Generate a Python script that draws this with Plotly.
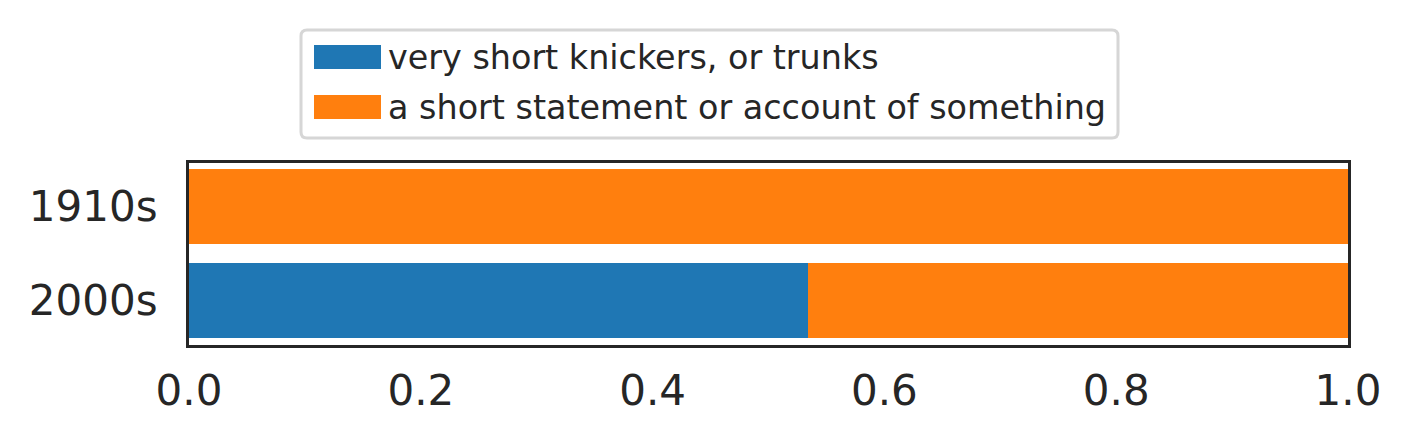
import plotly.graph_objects as go

# data
decades = ["1910s", "2000s"]
sense_names = ["very short knickers, or trunks", "a short statement or account of something"]
knickers_share = [0.0, 0.534]
statement_share = [1.0, 0.466]
sense_colors = ["#1f77b4", "#ff7f0e"]
x_ticks = [0.0, 0.2, 0.4, 0.6, 0.8, 1.0]

# page body has an 8px margin, so the figure is shrunk by that much
OFF = 8
W, H = 1412 - OFF, 447 - OFF
L, R, T, B = 189 - OFF, 1348 - OFF, 163 - OFF, 345 - OFF
TXT = "#262626"
FONT = "DejaVu Sans"


def px(x):
    return (x - OFF - L) / (R - L)


def py(y):
    return (B - (y - OFF)) / (B - T)


fig = go.Figure()
for name, vals, col in zip(sense_names, [knickers_share, statement_share], sense_colors):
    fig.add_trace(go.Bar(
        y=decades, x=vals, name=name, orientation="h",
        marker=dict(color=col, line=dict(width=0)),
        width=0.8, showlegend=False,
    ))

# legend drawn by hand so the swatches are wide rectangles like the original
shapes = []
x0, x1, y0, y1, r = 301, 1118, 30, 138, 6
path = (f"M{px(x0 + r)},{py(y0)} L{px(x1 - r)},{py(y0)} Q{px(x1)},{py(y0)} {px(x1)},{py(y0 + r)} "
        f"L{px(x1)},{py(y1 - r)} Q{px(x1)},{py(y1)} {px(x1 - r)},{py(y1)} "
        f"L{px(x0 + r)},{py(y1)} Q{px(x0)},{py(y1)} {px(x0)},{py(y1 - r)} "
        f"L{px(x0)},{py(y0 + r)} Q{px(x0)},{py(y0)} {px(x0 + r)},{py(y0)} Z")
shapes.append(dict(type="path", xref="paper", yref="paper", path=path,
                   line=dict(color="#d6d6d6", width=3), fillcolor="white", layer="above"))
annotations = []
row_centers = [57, 107]
for name, col, yc in zip(sense_names, sense_colors, row_centers):
    shapes.append(dict(type="rect", xref="paper", yref="paper",
                       x0=px(314), x1=px(381), y0=py(yc - 12), y1=py(yc + 12),
                       fillcolor=col, line=dict(width=0), layer="above"))
    annotations.append(dict(xref="paper", yref="paper", x=px(386), y=py(yc),
                            xanchor="left", yanchor="middle", text=name, showarrow=False,
                            font=dict(family=FONT, size=33.4, color=TXT)))

fig.update_layout(
    width=W, height=H,
    margin=dict(l=L, r=W - R, t=T, b=H - B, pad=0),
    barmode="stack",
    bargap=0.2,
    plot_bgcolor="white", paper_bgcolor="white",
    font=dict(family=FONT, color=TXT),
    shapes=shapes, annotations=annotations,
    showlegend=False,
)
fig.update_xaxes(
    range=[0, 1], tickvals=x_ticks, tickformat=".1f",
    showgrid=False, zeroline=False,
    showline=True, mirror=True, linecolor=TXT, linewidth=3,
    ticks="outside", ticklen=7, tickcolor="rgba(0,0,0,0)",
    tickfont=dict(family=FONT, size=42, color=TXT),
)
fig.update_yaxes(
    type="category", categoryorder="array", categoryarray=decades[::-1],
    range=[-0.48, 1.465],
    showgrid=False, zeroline=False,
    showline=True, mirror=True, linecolor=TXT, linewidth=3,
    ticks="outside", ticklen=20, tickcolor="rgba(0,0,0,0)",
    tickfont=dict(family=FONT, size=42, color=TXT),
)

fig.write_html("out.html")
